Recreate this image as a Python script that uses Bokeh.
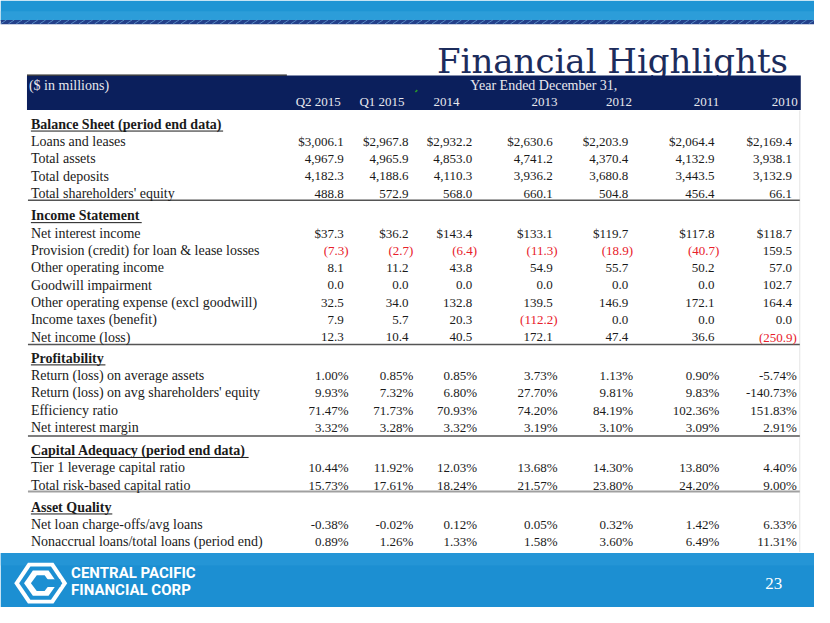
from bokeh.plotting import figure
from bokeh.models import Range1d, ColumnDataSource
from bokeh.embed import file_html
from bokeh.resources import INLINE
from bokeh.core.properties import value

# ---------------- data ----------------
columns = ["Q2 2015", "Q1 2015", "2014", "2013", "2012", "2011", "2010"]

sections = ["Balance Sheet (period end data)", "Income Statement", "Profitability",
            "Capital Adequacy (period end data)", "Asset Quality"]

balance_labels = ["Loans and leases", "Total assets", "Total deposits", "Total shareholders' equity"]
loans_leases = [3006.1, 2967.8, 2932.2, 2630.6, 2203.9, 2064.4, 2169.4]
total_assets = [4967.9, 4965.9, 4853.0, 4741.2, 4370.4, 4132.9, 3938.1]
total_deposits = [4182.3, 4188.6, 4110.3, 3936.2, 3680.8, 3443.5, 3132.9]
shareholders_equity = [488.8, 572.9, 568.0, 660.1, 504.8, 456.4, 66.1]

income_labels = ["Net interest income", "Provision (credit) for loan & lease losses",
                 "Other operating income", "Goodwill impairment",
                 "Other operating expense (excl goodwill)", "Income taxes (benefit)", "Net income (loss)"]
net_interest_income = [37.3, 36.2, 143.4, 133.1, 119.7, 117.8, 118.7]
provision = [-7.3, -2.7, -6.4, -11.3, -18.9, -40.7, 159.5]
other_op_income = [8.1, 11.2, 43.8, 54.9, 55.7, 50.2, 57.0]
goodwill_impairment = [0.0, 0.0, 0.0, 0.0, 0.0, 0.0, 102.7]
other_op_expense = [32.5, 34.0, 132.8, 139.5, 146.9, 172.1, 164.4]
income_taxes = [7.9, 5.7, 20.3, -112.2, 0.0, 0.0, 0.0]
net_income = [12.3, 10.4, 40.5, 172.1, 47.4, 36.6, -250.9]

profit_labels = ["Return (loss) on average assets", "Return (loss) on avg shareholders' equity",
                 "Efficiency ratio", "Net interest margin"]
roa = [1.00, 0.85, 0.85, 3.73, 1.13, 0.90, -5.74]
roe = [9.93, 7.32, 6.80, 27.70, 9.81, 9.83, -140.73]
efficiency = [71.47, 71.73, 70.93, 74.20, 84.19, 102.36, 151.83]
nim = [3.32, 3.28, 3.32, 3.19, 3.10, 3.09, 2.91]

capital_labels = ["Tier 1 leverage capital ratio", "Total risk-based capital ratio"]
tier1 = [10.44, 11.92, 12.03, 13.68, 14.30, 13.80, 4.40]
total_rbc = [15.73, 17.61, 18.24, 21.57, 23.80, 24.20, 9.00]

asset_labels = ["Net loan charge-offs/avg loans", "Nonaccrual loans/total loans (period end)"]
nco = [-0.38, -0.02, 0.12, 0.05, 0.32, 1.42, 6.33]
nonaccrual = [0.89, 1.26, 1.33, 1.58, 3.60, 6.49, 11.31]

# ---------------- layout ----------------
NAVY = "#0b1f5c"
BLUE = "#1f95d4"
BBLUE = "#1c8fd2"
INK = "#1a1a1a"
RED = "#e8202a"
SERIF = "Liberation Serif"
FS = "14px"
NFS = "13px"

col_right = [350, 416, 481, 563, 640, 728, 807]
head_right = [347, 412, 468, 568, 644, 733, 813]
section_y = [127, 221, 367, 462, 520]
step = 17.8
rule_y = [205, 353, 447, 504]
underline_end = [227, 144, 107, 253, 114]

money_rows = [
    (balance_labels, [loans_leases, total_assets, total_deposits, shareholders_equity], [True, False, False, False]),
    (income_labels, [net_interest_income, provision, other_op_income, goodwill_impairment,
                     other_op_expense, income_taxes, net_income], [True] + [False] * 6),
]
pct_rows = [
    (profit_labels, [roa, roe, efficiency, nim]),
    (capital_labels, [tier1, total_rbc]),
    (asset_labels, [nco, nonaccrual]),
]


def fmt_money(v, dollar):
    s = f"{abs(v):,.1f}"
    if dollar:
        s = "$" + s
    if v < 0:
        return "(" + s + ")", RED, 5
    return s, INK, 0


def fmt_pct(v):
    return f"{v:.2f}%", INK, 5


lab_x, lab_y, lab_t = [], [], []
cx, cy, ct, cc = [], [], [], []

for si, (labels, series, dollars) in enumerate(money_rows):
    for ri, (lab, vals, d) in enumerate(zip(labels, series, dollars)):
        y = section_y[si] + step * (ri + 1)
        lab_x.append(31); lab_y.append(y); lab_t.append(lab)
        for ci, v in enumerate(vals):
            t, c, off = fmt_money(v, d)
            cx.append(col_right[ci] + off); cy.append(y); ct.append(t); cc.append(c)

for k, (labels, series) in enumerate(pct_rows):
    si = k + 2
    for ri, (lab, vals) in enumerate(zip(labels, series)):
        y = section_y[si] + step * (ri + 1)
        lab_x.append(31); lab_y.append(y); lab_t.append(lab)
        for ci, v in enumerate(vals):
            t, c, off = fmt_pct(v)
            cx.append(col_right[ci] + off); cy.append(y); ct.append(t); cc.append(c)

p = figure(width=814, height=607, x_range=Range1d(0, 830), y_range=Range1d(623, 0),
           output_backend="svg", toolbar_location=None, min_border=0)
p.axis.visible = False
p.grid.visible = False
p.outline_line_color = None
p.background_fill_color = "white"
p.border_fill_color = "white"

# top band
p.quad(left=[0], right=[830], top=[0], bottom=[21], fill_color=BLUE, line_color=None)
p.quad(left=[0], right=[830], top=[11], bottom=[21], fill_color="#3aa6de", fill_alpha=0.5, line_color=None)
p.quad(left=[0], right=[830], top=[20], bottom=[24.5], fill_color="#23408a", line_color=None)
p.segment(x0=list(range(0, 830, 8)), y0=[24] * 104, x1=[x + 6 for x in range(0, 830, 8)], y1=[20] * 104,
          line_color="#6fa8dc", line_width=1, line_alpha=0.7)

# bottom band
p.quad(left=[0], right=[830], top=[567], bottom=[623], fill_color=BBLUE, line_color=None)
p.quad(left=[0], right=[830], top=[567], bottom=[580], fill_color="#2a9ad8", fill_alpha=0.6, line_color=None)

# title
p.text(x=[803], y=[62], text=["Financial Highlights"], text_align="right", text_baseline="alphabetic",
       text_font=value("DejaVu Serif"), text_font_size="34px", text_color="#1c2c5c")

# header bar
p.quad(left=[27], right=[816], top=[77], bottom=[112.5], fill_color=NAVY, line_color=None)
p.segment(x0=[27], y0=[76.5], x1=[292], y1=[76.5], line_color="#222222", line_width=1.2)
p.text(x=[29], y=[87], text=["($ in millions)"], text_align="left", text_baseline="middle",
       text_font=value(SERIF), text_font_size=FS, text_color="#e8e8ee")
p.text(x=[554], y=[87], text=["Year Ended December 31,"], text_align="center", text_baseline="middle",
       text_font=value(SERIF), text_font_size=FS, text_color="#e8e8ee")
p.text(x=head_right, y=[104] * len(columns), text=columns, text_align="right", text_baseline="middle",
       text_font=value(SERIF), text_font_size=NFS, text_color="#e8e8ee")
p.segment(x0=[423], y0=[94], x1=[425], y1=[92], line_color="#2a9a2a", line_width=1.5)

# right light border
p.segment(x0=[815], y0=[113], x1=[815], y1=[566], line_color="#e4e4e4", line_width=1)

# section headers
p.text(x=[31] * len(sections), y=section_y, text=sections, text_align="left", text_baseline="middle",
       text_font=value(SERIF), text_font_size=FS, text_font_style="bold", text_color=INK)
p.segment(x0=[31] * len(sections), y0=[y + 7 for y in section_y], x1=underline_end,
          y1=[y + 7 for y in section_y], line_color=INK, line_width=1)

# rules
p.segment(x0=[28] * 4, y0=rule_y, x1=[815] * 4, y1=rule_y,
          line_color=["#555555", "#555555", "#555555", "#a0a0a0"], line_width=[1.5, 1.5, 1.5, 2])

# labels and cells
p.text(x=lab_x, y=lab_y, text=lab_t, text_align="left", text_baseline="middle",
       text_font=value(SERIF), text_font_size=FS, text_color=INK)
src = ColumnDataSource(dict(x=cx, y=cy, text=ct, color=cc))
p.text(x="x", y="y", text="text", text_color="color", source=src, text_align="right",
       text_baseline="middle", text_font=value(SERIF), text_font_size=NFS)

# logo
hx, hy = 41, 598
p.patch([hx - 27, hx - 13, hx + 13, hx + 27, hx + 13, hx - 13],
        [hy, hy - 21, hy - 21, hy, hy + 21, hy + 21], fill_color="white", line_color=None)
p.patch([hx - 22, hx - 10.5, hx + 10.5, hx + 22, hx + 10.5, hx - 10.5],
        [hy, hy - 17, hy - 17, hy, hy + 17, hy + 17], fill_color=BBLUE, line_color=None)
p.patch([hx - 17, hx - 8, hx + 8, hx + 17, hx + 8, hx - 8],
        [hy, hy - 13, hy - 13, hy, hy + 13, hy + 13], fill_color="white", line_color=None)
p.patch([hx - 10, hx - 4, hx + 4, hx + 10, hx + 4, hx - 4],
        [hy, hy - 8, hy - 8, hy, hy + 8, hy + 8], fill_color=BBLUE, line_color=None)
p.quad(left=[hx + 2], right=[hx + 20], top=[hy - 4], bottom=[hy + 4], fill_color=BBLUE, line_color=None)

p.text(x=[72, 72], y=[588, 605], text=["CENTRAL PACIFIC", "FINANCIAL CORP"], text_align="left",
       text_baseline="middle", text_font=value("Roboto"), text_font_size="15px",
       text_font_style="bold", text_color="white")
p.text(x=[797], y=[598], text=["23"], text_align="right", text_baseline="middle",
       text_font=value(SERIF), text_font_size="17px", text_color="white")

open("out.html", "w").write(file_html(p, INLINE))
